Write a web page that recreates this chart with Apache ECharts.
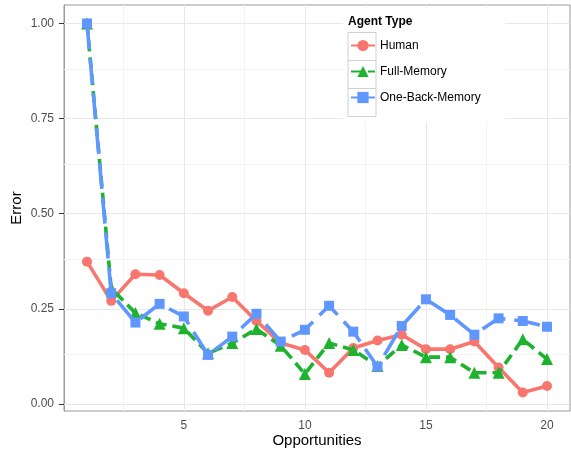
<!DOCTYPE html>
<html>
<head>
<meta charset="utf-8">
<script src="https://cdn.jsdelivr.net/npm/echarts@6/dist/echarts.min.js"></script>
<style>
html,body{margin:0;padding:0;background:#fff;}
#c{width:571px;height:454px;}
</style>
</head>
<body>
<div id="c"></div>
<script>
var opportunities = [1,2,3,4,5,6,7,8,9,10,11,12,13,14,15,16,17,18,19,20];
var human = [0.374,0.271,0.341,0.339,0.291,0.245,0.281,0.218,0.160,0.142,0.082,0.147,0.167,0.182,0.144,0.144,0.164,0.096,0.030,0.047];
var fullMemory = [1.0,0.304,0.239,0.211,0.199,0.133,0.160,0.197,0.153,0.079,0.160,0.142,0.100,0.155,0.123,0.123,0.082,0.082,0.170,0.118];
var oneBackMemory = [1.0,0.291,0.214,0.263,0.230,0.129,0.177,0.237,0.164,0.195,0.258,0.190,0.098,0.205,0.275,0.234,0.182,0.225,0.218,0.203];
var xTicks = [5,10,15,20];
var xMinor = [2.5,7.5,12.5,17.5];
var yTicks = [0,0.25,0.5,0.75,1.0];
var yMinor = [0.125,0.375,0.625,0.875];

function pairs(vals){ return opportunities.map(function(x,i){ return [x, vals[i]]; }); }

var gridLines = [];
xMinor.forEach(function(v){ gridLines.push({xAxis:v, lineStyle:{color:'#f4f4f4',width:1,type:'solid'}}); });
yMinor.forEach(function(v){ gridLines.push({yAxis:v, lineStyle:{color:'#f4f4f4',width:1,type:'solid'}}); });
xTicks.forEach(function(v){ gridLines.push({xAxis:v, lineStyle:{color:'#e8e8e8',width:1,type:'solid'}}); });
yTicks.forEach(function(v){ gridLines.push({yAxis:v, lineStyle:{color:'#e8e8e8',width:1,type:'solid'}}); });

var chart = echarts.init(document.getElementById('c'));
var colors = ['#F8766D','#1DB32E','#5F96FF'];
var font = 'Liberation Sans, Arial, sans-serif';
chart.setOption({
  animation:false,
  backgroundColor:'#fff',
  title:{text:'Agent Type', left:348, top:16, padding:0, z:8,
    textStyle:{fontFamily:font, fontSize:12, fontWeight:'bold', color:'#000'}},
  legend:{
    orient:'vertical', left:350, top:39.5, padding:0, z:8,
    itemWidth:24, itemHeight:14, itemGap:14,
    textStyle:{fontFamily:font, fontSize:12, color:'#000'},
    data:['Human','Full-Memory','One-Back-Memory']
  },
  graphic:[
    {type:'rect', z:6, shape:{x:343,y:8,width:162,height:114}, style:{fill:'#fff'}},
    {type:'rect', z:7, shape:{x:348,y:32.5,width:28,height:28}, style:{fill:'#fff',stroke:'#d0d0d0',lineWidth:1}},
    {type:'rect', z:7, shape:{x:348,y:60.5,width:28,height:28}, style:{fill:'#fff',stroke:'#d0d0d0',lineWidth:1}},
    {type:'rect', z:7, shape:{x:348,y:88.5,width:28,height:28}, style:{fill:'#fff',stroke:'#d0d0d0',lineWidth:1}}
  ],
  grid:{left:64, top:5, right:1, bottom:43, containLabel:false, outerBoundsMode:'none',
    show:true, borderColor:'#9a9a9a', borderWidth:1, backgroundColor:'#fff'},
  xAxis:{
    type:'value', min:0.05, max:20.95,
    name:'Opportunities', nameLocation:'middle', nameGap:22, nameMoveOverlap:false,
    nameTextStyle:{fontFamily:font, fontSize:15, color:'#000'},
    axisLine:{show:true, lineStyle:{color:'#9a9a9a', width:1}},
    axisTick:{show:true, inside:false, length:5, customValues:xTicks, lineStyle:{color:'#333', width:1}},
    axisLabel:{customValues:xTicks, margin:9, fontFamily:font, fontSize:12, color:'#4d4d4d'},
    splitLine:{show:false}
  },
  yAxis:{
    type:'value', min:-0.0185, max:1.0485,
    name:'Error', nameLocation:'middle', nameGap:40, nameRotate:90, nameMoveOverlap:false,
    nameTextStyle:{fontFamily:font, fontSize:15, color:'#000'},
    axisLine:{show:true, lineStyle:{color:'#9a9a9a', width:1}},
    axisTick:{show:true, inside:false, length:5, customValues:yTicks, lineStyle:{color:'#333', width:1}},
    axisLabel:{customValues:yTicks, margin:10, fontFamily:font, fontSize:12, color:'#4d4d4d',
      formatter:function(v){ return v.toFixed(2); }},
    splitLine:{show:false}
  },
  series:[
    {type:'line', name:'_grid', data:[], z:1, silent:true,
      markLine:{silent:true, z:1, symbol:'none', label:{show:false}, animation:false, data:gridLines}},
    {type:'line', name:'Human', data:pairs(human), z:3, color:colors[0],
      symbol:'circle', symbolSize:10,
      lineStyle:{width:3.6, color:colors[0]}, itemStyle:{color:colors[0]}},
    {type:'line', name:'Full-Memory', data:pairs(fullMemory), z:4, color:colors[1],
      symbol:'triangle', symbolSize:12,
      lineStyle:{width:3.6, color:colors[1], type:[11,6]}, itemStyle:{color:colors[1]}},
    {type:'line', name:'One-Back-Memory', data:pairs(oneBackMemory), z:5, color:colors[2],
      symbol:'rect', symbolSize:10,
      lineStyle:{width:3.6, color:colors[2], type:[26,9]}, itemStyle:{color:colors[2]}}
  ]
});
</script>
</body>
</html>
